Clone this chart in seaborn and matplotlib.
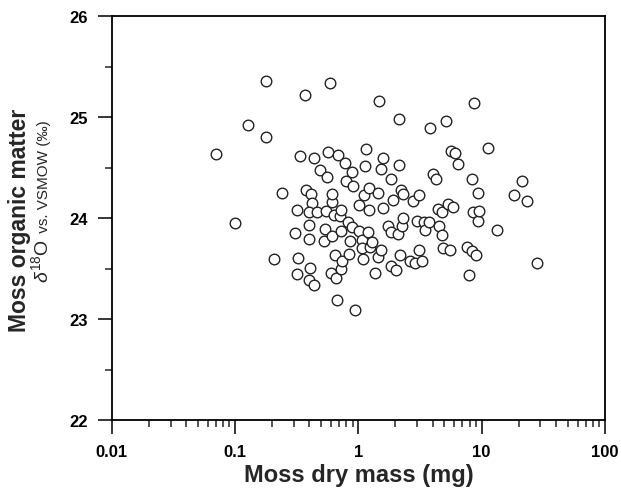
import numpy as np
import pandas as pd
import matplotlib
matplotlib.use("Agg")
import matplotlib.pyplot as plt
import seaborn as sns

# Moss dry mass (mg)
mass = [0.0697, 0.1006, 0.128, 0.178, 0.178, 0.208, 0.239, 0.308, 0.320, 0.326,
        0.320, 0.336, 0.372, 0.377, 0.411, 0.419, 0.400, 0.400, 0.400, 0.406,
        0.396, 0.437, 0.437, 0.465, 0.489, 0.527, 0.541, 0.544, 0.561, 0.571,
        0.589, 0.608, 0.608, 0.615, 0.635, 0.651, 0.601, 0.658, 0.668, 0.689,
        0.711, 0.724, 0.720, 0.724, 0.742, 0.780, 0.794, 0.820, 0.840, 0.857,
        0.883, 0.883, 0.901, 0.94, 1.02, 1.02, 1.07, 1.07, 1.10, 1.11,
        1.13, 1.15, 1.20, 1.23, 1.24, 1.23, 1.28, 1.36, 1.45, 1.45,
        1.47, 1.52, 1.53, 1.60, 1.60, 1.75, 1.83, 1.83, 1.83, 1.90,
        2.02, 2.11, 2.14, 2.15, 2.18, 2.22, 2.25, 2.29, 2.32, 2.63,
        2.79, 2.88, 2.98, 3.13, 3.13, 3.27, 3.43, 3.47, 3.77, 3.82,
        4.05, 4.27, 4.46, 4.54, 4.75, 4.75, 4.90, 5.14, 5.37, 5.55,
        5.65, 5.90, 6.08, 6.47, 7.57, 7.91, 8.31, 8.41, 8.57, 8.67,
        9.01, 9.40, 9.40, 9.50, 11.2, 13.4, 18.4, 21.4, 23.5, 28.0]

# Moss organic matter d18O vs. VSMOW (permil)
d18o = [24.63, 23.95, 24.92, 25.36, 24.80, 23.59, 24.25, 23.85, 24.08, 23.60,
        23.45, 24.61, 25.22, 24.28, 24.24, 24.15, 24.06, 23.93, 23.79, 23.51,
        23.39, 23.34, 24.59, 24.06, 24.48, 23.77, 23.89, 24.07, 24.41, 24.65,
        25.34, 24.16, 23.82, 24.24, 24.03, 23.63, 23.46, 23.41, 23.19, 24.62,
        24.02, 24.08, 23.87, 23.50, 23.57, 24.55, 24.37, 23.96, 23.64, 23.77,
        24.46, 23.91, 24.32, 23.09, 24.13, 23.87, 23.78, 23.70, 23.59, 24.23,
        24.52, 24.68, 23.86, 24.08, 23.71, 24.30, 23.76, 23.46, 23.61, 24.25,
        25.16, 24.49, 23.68, 24.59, 24.10, 23.92, 23.86, 24.39, 23.53, 24.18,
        23.49, 23.84, 24.98, 24.53, 23.63, 24.28, 23.92, 24.24, 24.00, 23.57,
        24.17, 23.56, 23.97, 24.23, 23.68, 23.57, 23.96, 23.88, 23.96, 24.89,
        24.44, 24.39, 24.09, 23.92, 24.06, 23.83, 23.70, 24.96, 24.14, 23.68,
        24.66, 24.11, 24.64, 24.54, 23.71, 23.44, 23.67, 24.39, 24.06, 25.14,
        23.63, 24.25, 23.97, 24.07, 24.69, 23.88, 24.23, 24.37, 24.17, 23.56]

x_ticks = [0.01, 0.1, 1, 10, 100]
x_ticklabels = ["0.01", "0.1", "1", "10", "100"]
y_ticks = [22, 23, 24, 25, 26]

df = pd.DataFrame({"mass": mass, "d18o": d18o})

sns.set_style("ticks")
plt.rcParams["font.family"] = ["Liberation Sans", "DejaVu Sans"]
plt.rcParams["mathtext.fontset"] = "custom"
plt.rcParams["mathtext.rm"] = "Liberation Sans"
plt.rcParams["mathtext.it"] = "Liberation Sans:italic"

fig = plt.figure(figsize=(6.21, 4.89), dpi=100)
ax = fig.add_axes([0.180, 0.139, 0.794, 0.826])

sns.scatterplot(data=df, x="mass", y="d18o", ax=ax, s=58, marker="o",
                facecolor="white", edgecolor="#222222", linewidth=1.0, zorder=3)

ax.set_xscale("log")
ax.set_xlim(0.01, 100)
ax.set_ylim(22, 26)
ax.set_xticks(x_ticks)
ax.set_xticklabels(x_ticklabels)
ax.set_yticks(y_ticks)
ax.yaxis.set_minor_locator(matplotlib.ticker.MultipleLocator(0.5))
ax.xaxis.set_minor_locator(matplotlib.ticker.LogLocator(base=10, subs=np.arange(2, 10)))
ax.xaxis.set_minor_formatter(matplotlib.ticker.NullFormatter())

for sp in ax.spines.values():
    sp.set_visible(True)
    sp.set_linewidth(1.3)
    sp.set_color("black")

ax.tick_params(axis="both", which="major", direction="out", length=10, width=1.1,
               pad=7, labelsize=12, colors="black")
ax.tick_params(axis="both", which="minor", direction="out", length=5, width=1.1)
for lab in ax.get_xticklabels() + ax.get_yticklabels():
    lab.set_fontweight("bold")

ax.set_xlabel("Moss dry mass (mg)", fontsize=17, fontweight="bold", labelpad=3)
ax.set_ylabel("")

# y label (two lines)
fig.text(20 / 621, 1 - 220 / 489, "Moss organic matter", rotation=90,
         fontsize=16.5, fontweight="bold", ha="center", va="center")
fig.text(48 / 621, 1 - 239 / 489, r"$\delta^{18}$O", rotation=90,
         rotation_mode="anchor", fontsize=14, ha="right", va="baseline")
fig.text(48 / 621, 1 - 237 / 489, " vs. VSMOW (‰)", rotation=90,
         rotation_mode="anchor", fontsize=11, ha="left", va="baseline")

fig.savefig("out.png", dpi=100)
